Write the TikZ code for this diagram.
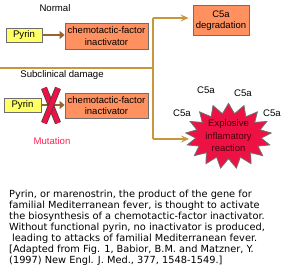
\documentclass[tikz,border=0pt]{standalone}
\usepackage{fontspec}
\setmainfont{Liberation Sans}
\newfontfamily\capfont{DejaVu Sans}
\usetikzlibrary{arrows.meta,shapes.symbols,calc}
\definecolor{boxyellow}{HTML}{FFFF66}
\definecolor{boxorange}{HTML}{FF9160}
\definecolor{boxedge}{HTML}{6E6E6E}
\definecolor{brownarrow}{HTML}{99632E}
\definecolor{goldline}{HTML}{C8963C}
\definecolor{starred}{HTML}{EE1144}
\definecolor{mutred}{HTML}{FF2255}
\definecolor{startext}{HTML}{4A0010}
\tikzset{
  pyrinbox/.style={draw=boxedge, fill=boxyellow, line width=0.8pt, inner sep=0pt, font=\fontsize{9.6}{10}\selectfont},
  orangebox/.style={draw=boxedge, fill=boxorange, line width=0.8pt, inner sep=0pt, align=center, font=\fontsize{9.5}{11.5}\selectfont},
  thickarrow/.style={draw=brownarrow, line width=2.8pt, -{Triangle[length=5pt,width=8pt]}},
  goldconn/.style={draw=goldline, line width=1.3pt},
  goldarrow/.style={goldconn, -{Stealth[length=8pt,width=7pt,inset=3pt]}},
  lbl/.style={font=\fontsize{9.6}{10}\selectfont, inner sep=0pt},
  c5a/.style={lbl},
}
\begin{document}
\begin{tikzpicture}[x=1pt,y=-1pt]
\useasboundingbox (0,0) rectangle (287,274);
% normal pathway
\node[lbl] (normal) at (55,8) {Normal};
\node[pyrinbox, minimum width=36pt, minimum height=14pt] (pyrin1) at (24,35) {Pyrin};
\node[orangebox, minimum width=83pt, minimum height=26pt] (inact1) at (106.5,36) {chemotactic-factor\\inactivator};
\draw[thickarrow] (pyrin1.east) ++(1,0) coordinate (a1s) -- (inact1.west |- a1s) coordinate (a1e);
% subclinical
\node[lbl] (subclin) at (62,75) {Subclinical damage};
\node[pyrinbox, minimum width=37pt, minimum height=14pt] (pyrin2) at (22.5,105) {Pyrin};
\node[orangebox, minimum width=83pt, minimum height=25pt] (inact2) at (106.5,105.5) {chemotactic-factor\\inactivator};
\draw[thickarrow] (pyrin2.east) ++(1,0) coordinate (a2s) -- (inact2.west |- a2s) coordinate (a2e);
% red X
\coordinate (xa) at (44,88);
\coordinate (xb) at (58,123);
\coordinate (xc) at (58,88);
\coordinate (xd) at (44,123);
\foreach \p/\q in {xa/xb, xc/xd} {
  \draw[line width=6.2pt, draw=black!75, line cap=butt] (\p) .. controls ($(\p)!0.5!(\q)+(0,0)$) .. (\q);
  \draw[line width=4.6pt, draw=starred, line cap=butt] (\p) .. controls ($(\p)!0.5!(\q)+(0,0)$) .. (\q);
}
\node[lbl, text=mutred] (mutation) at (52,141) {Mutation};
% branching gold line
\coordinate (lstart) at (0,68);
\coordinate (split) at (153,68);
\node[orangebox, minimum width=56pt, minimum height=30pt] (c5adeg) at (221,20.5) {C5a\\degradation};
\node[starburst, starburst points=17, starburst point height=10pt, random starburst=0, draw=boxedge, fill=starred, line width=0.8pt, minimum width=64pt, minimum height=57pt, inner sep=0pt, align=center, text=startext, font=\fontsize{9.5}{12.5}\selectfont] (burst) at (228.5,136) {Explosive\\inflamatory\\reaction};
\coordinate (topturn) at (153,18);
\coordinate (botturn) at (153,139);
\draw[goldconn] (lstart) -- (split);
\draw[goldconn] (topturn) -- (botturn);
\draw[goldarrow] (topturn) -- ([xshift=-4pt]c5adeg.west |- topturn);
\draw[goldarrow] (botturn) -- (189,139) coordinate (burstin);
% C5a labels
\node[c5a] (c5a1) at (206,90) {C5a};
\node[c5a] (c5a2) at (243,93) {C5a};
\node[c5a] (c5a3) at (182,113) {C5a};
\node[c5a] (c5a4) at (272,113) {C5a};
% caption
\node[anchor=north west, inner sep=0pt, align=left, font=\capfont\fontsize{9.8}{11}\selectfont] (caption) at (9,190) {Pyrin, or marenostrin, the product of the gene for\\
familial Mediterranean fever, is thought to activate\\
the biosynthesis of a chemotactic-factor inactivator.\\
Without functional pyrin, no inactivator is produced,\\
\hspace*{3pt}leading to attacks of familial Mediterranean fever.\\
{[}Adapted from Fig. 1, Babior, B.M. and Matzner, Y.\\
(1997) New Engl. J. Med., 377, 1548-1549.]};
\end{tikzpicture}
\end{document}
